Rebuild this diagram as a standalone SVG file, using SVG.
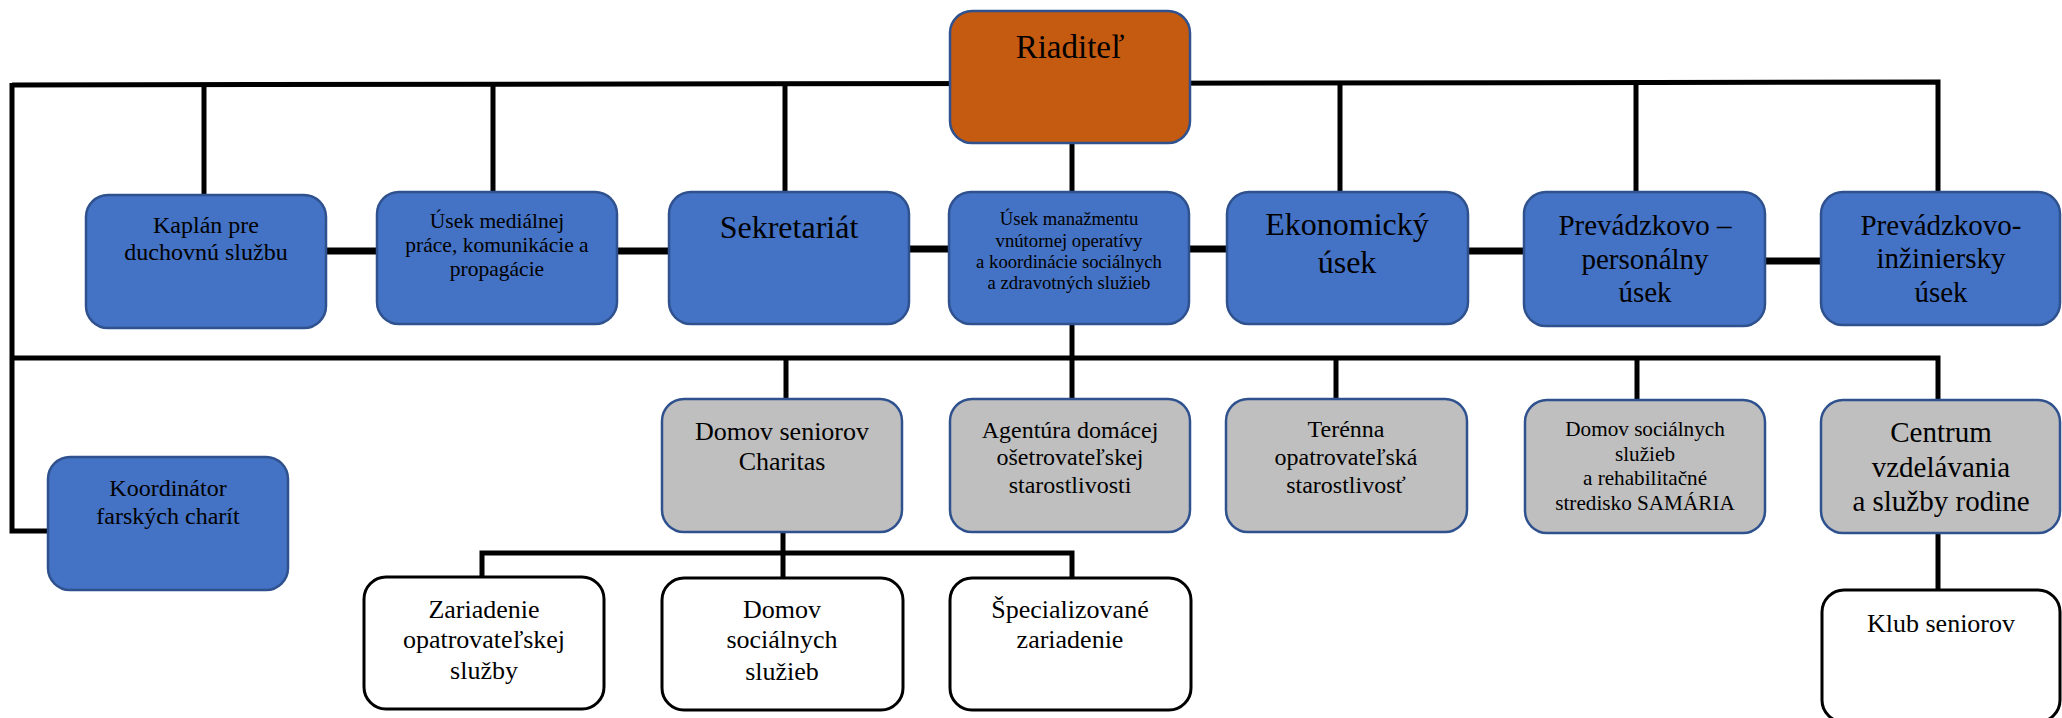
<svg xmlns="http://www.w3.org/2000/svg" width="2062" height="718" viewBox="0 0 2062 718">
<style>
.bx{stroke-width:2.5}
.blue{fill:#4472C4;stroke:#2F528F}
.orange{fill:#C55A11;stroke:#2F528F}
.gray{fill:#BFBFBF;stroke:#2F528F}
.white{fill:#FFFFFF;stroke:#000000;stroke-width:3}
text{font-family:"Liberation Serif","Times New Roman",serif;fill:#000;text-anchor:middle}
.ln{stroke:#000;fill:none;stroke-width:5;stroke-linecap:butt;stroke-linejoin:miter}
.lnh{stroke:#000;fill:none;stroke-width:7}
</style>
<rect width="2062" height="718" fill="#FFFFFF"/>
<g id="connectors">
<path class="ln" d="M12,85 L1938,82 L1938,192"/>
<path class="ln" d="M12,83 V531 H48"/>
<path class="ln" d="M204,84 V195"/>
<path class="ln" d="M493,84 V192"/>
<path class="ln" d="M785,83 V192"/>
<path class="ln" d="M1340,83 V192"/>
<path class="ln" d="M1636,82 V192"/>
<path class="ln" d="M1072,143 V192"/>
<path class="lnh" d="M326,251 H377"/>
<path class="lnh" d="M617,251 H669"/>
<path class="lnh" d="M909,249 H949"/>
<path class="lnh" d="M1189,249 H1227"/>
<path class="lnh" d="M1468,251 H1524"/>
<path class="lnh" d="M1765,261 H1821"/>
<path class="ln" d="M12,358 H1938 V400"/>
<path class="ln" d="M1072,324 V399"/>
<path class="ln" d="M786,358 V399"/>
<path class="ln" d="M1336,358 V399"/>
<path class="ln" d="M1637,358 V400"/>
<path class="ln" d="M1938,533 V590"/>
<path class="ln" d="M783,532 V577"/>
<path class="ln" d="M482,577 V553 H1072 V578"/>
</g>
<g id="riaditel">
<rect class="bx orange" x="950" y="11" width="240" height="132" rx="22"/>
<text x="1070" y="58" font-size="33">Riaditeľ</text>
</g>
<g id="kaplan">
<rect class="bx blue" x="86" y="195" width="240" height="133" rx="22"/>
<text font-size="24"><tspan x="206" y="233">Kaplán pre</tspan><tspan x="206" y="260">duchovnú službu</tspan></text>
</g>
<g id="usek-medialnej">
<rect class="bx blue" x="377" y="192" width="240" height="132" rx="22"/>
<text font-size="21.5"><tspan x="497" y="228">Úsek mediálnej</tspan><tspan x="497" y="252">práce, komunikácie a</tspan><tspan x="497" y="276">propagácie</tspan></text>
</g>
<g id="sekretariat">
<rect class="bx blue" x="669" y="192" width="240" height="132" rx="22"/>
<text x="789" y="238" font-size="32">Sekretariát</text>
</g>
<g id="usek-manazmentu">
<rect class="bx blue" x="949" y="192" width="240" height="132" rx="22"/>
<text font-size="18.7"><tspan x="1069" y="225">Úsek manažmentu</tspan><tspan x="1069" y="247">vnútornej operatívy</tspan><tspan x="1069" y="268">a koordinácie sociálnych</tspan><tspan x="1069" y="289">a zdravotných služieb</tspan></text>
</g>
<g id="ekonomicky">
<rect class="bx blue" x="1227" y="192" width="241" height="132" rx="22"/>
<text font-size="32"><tspan x="1347" y="235">Ekonomický</tspan><tspan x="1347" y="273">úsek</tspan></text>
</g>
<g id="prevadzkovo-personalny">
<rect class="bx blue" x="1524" y="192" width="241" height="134" rx="22"/>
<text font-size="29"><tspan x="1645" y="235">Prevádzkovo –</tspan><tspan x="1645" y="269">personálny</tspan><tspan x="1645" y="302">úsek</tspan></text>
</g>
<g id="prevadzkovo-inziniersky">
<rect class="bx blue" x="1821" y="192" width="239" height="133" rx="22"/>
<text font-size="29"><tspan x="1941" y="235">Prevádzkovo-</tspan><tspan x="1941" y="268">inžiniersky</tspan><tspan x="1941" y="302">úsek</tspan></text>
</g>
<g id="koordinator">
<rect class="bx blue" x="48" y="457" width="240" height="133" rx="22"/>
<text font-size="24"><tspan x="168" y="496">Koordinátor</tspan><tspan x="168" y="524">farských charít</tspan></text>
</g>
<g id="domov-seniorov">
<rect class="bx gray" x="662" y="399" width="240" height="133" rx="22"/>
<text font-size="26"><tspan x="782" y="440">Domov seniorov</tspan><tspan x="782" y="470">Charitas</tspan></text>
</g>
<g id="agentura">
<rect class="bx gray" x="950" y="399" width="240" height="133" rx="22"/>
<text font-size="24"><tspan x="1070" y="438">Agentúra domácej</tspan><tspan x="1070" y="465">ošetrovateľskej</tspan><tspan x="1070" y="493">starostlivosti</tspan></text>
</g>
<g id="terenna">
<rect class="bx gray" x="1226" y="399" width="241" height="133" rx="22"/>
<text font-size="24"><tspan x="1346" y="437">Terénna</tspan><tspan x="1346" y="465">opatrovateľská</tspan><tspan x="1346" y="493">starostlivosť</tspan></text>
</g>
<g id="samaria">
<rect class="bx gray" x="1525" y="400" width="240" height="133" rx="22"/>
<text font-size="21.2"><tspan x="1645" y="436">Domov sociálnych</tspan><tspan x="1645" y="461">služieb</tspan><tspan x="1645" y="485">a rehabilitačné</tspan><tspan x="1645" y="510">stredisko SAMÁRIA</tspan></text>
</g>
<g id="centrum">
<rect class="bx gray" x="1821" y="400" width="239" height="133" rx="22"/>
<text font-size="29"><tspan x="1941" y="442">Centrum</tspan><tspan x="1941" y="477">vzdelávania</tspan><tspan x="1941" y="511">a služby rodine</tspan></text>
</g>
<g id="zariadenie">
<rect class="white" x="364" y="577" width="240" height="132" rx="22"/>
<text font-size="26"><tspan x="484" y="618">Zariadenie</tspan><tspan x="484" y="648">opatrovateľskej</tspan><tspan x="484" y="679">služby</tspan></text>
</g>
<g id="domov-socialnych">
<rect class="white" x="662" y="578" width="241" height="132" rx="22"/>
<text font-size="26"><tspan x="782" y="618">Domov</tspan><tspan x="782" y="648">sociálnych</tspan><tspan x="782" y="680">služieb</tspan></text>
</g>
<g id="specializovane">
<rect class="white" x="950" y="578" width="241" height="132" rx="22"/>
<text font-size="26"><tspan x="1070" y="618">Špecializované</tspan><tspan x="1070" y="648">zariadenie</tspan></text>
</g>
<g id="klub-seniorov">
<rect class="white" x="1822" y="590" width="238" height="132" rx="22"/>
<text x="1941" y="632" font-size="26">Klub seniorov</text>
</g>
</svg>
